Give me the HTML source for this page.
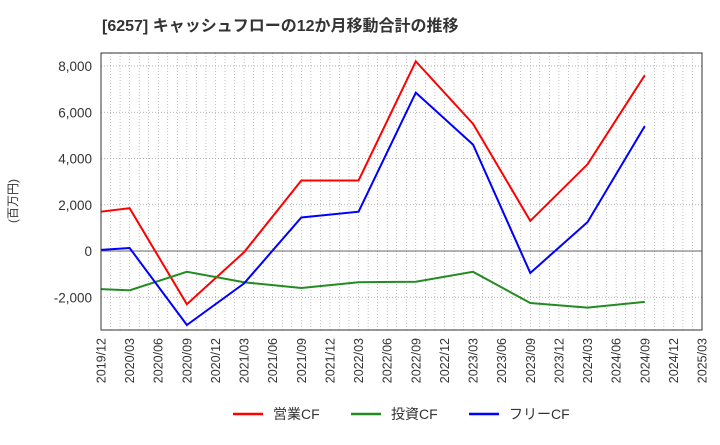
<!DOCTYPE html>
<html><head><meta charset="utf-8"><style>
body{margin:0;background:#fff;font-family:"Liberation Sans","Noto Sans CJK JP",sans-serif}
</style></head><body>
<svg width="720" height="440" xmlns="http://www.w3.org/2000/svg" font-family="Liberation Sans, Noto Sans CJK JP, sans-serif">
<text x="102" y="31" font-size="16" font-weight="bold" fill="#333">[6257]  キャッシュフローの12か月移動合計の推移</text>
<text transform="translate(17,201) rotate(-90)" text-anchor="middle" font-size="12" fill="#333">(百万円)</text>
<g id="grid"></g><g id="axes"></g><g id="series"></g>
<rect x="101" y="53" width="601" height="277" fill="none" stroke="#333" stroke-width="1"/>
<g font-size="14" fill="#333">
<line x1="233" y1="414" x2="263" y2="414" stroke="#f00" stroke-width="2.5"/><text x="273" y="419">営業CF</text>
<line x1="351" y1="414" x2="381" y2="414" stroke="#228b22" stroke-width="2.5"/><text x="391" y="419">投資CF</text>
<line x1="469" y1="414" x2="499" y2="414" stroke="#00f" stroke-width="2.5"/><text x="509" y="419">フリーCF</text>
</g>
</svg>
<script>
const quarterLabels=["2019/12","2020/03","2020/06","2020/09","2020/12","2021/03","2021/06","2021/09","2021/12","2022/03","2022/06","2022/09","2022/12","2023/03","2023/06","2023/09","2023/12","2024/03","2024/06","2024/09","2024/12","2025/03"];
const pointIdx=[0,1,3,5,7,9,11,13,15,17,19];
const operatingCF=[1700,1850,-2300,-50,3050,3050,8200,5500,1300,3750,7600];
const investingCF=[-1650,-1700,-900,-1350,-1600,-1350,-1330,-900,-2250,-2450,-2200];
const freeCF=[50,130,-3200,-1400,1450,1700,6850,4600,-950,1250,5400];
const yTicks=[-2000,0,2000,4000,6000,8000];
const NS="http://www.w3.org/2000/svg";
const L=101,R=702,T=53,B=330;
const x=i=>L+(R-L)*i/21;
const y=v=>251-v*185/8000;
function mk(tag,attrs,parent){const e=document.createElementNS(NS,tag);for(const k in attrs)e.setAttribute(k,attrs[k]);document.getElementById(parent).appendChild(e);return e;}
for(let m=1;m<63;m++){const xx=L+(R-L)*m/63;const g=mk('line',{x1:xx,x2:xx,y1:T,y2:B,stroke:'#999','stroke-width':0.6,'stroke-dasharray':'1,2'},'grid');}
yTicks.forEach(v=>{const g=mk('line',{x1:L,x2:R,y1:y(v),y2:y(v),stroke:v===0?'#666':'#999','stroke-width':v===0?1:0.8,'stroke-dasharray':v===0?'':'1,2'},'grid');
const t=mk('text',{x:92,y:y(v)+5,'text-anchor':'end','font-size':13.5,fill:'#333'},'axes');t.textContent=v.toLocaleString('en-US');});
quarterLabels.forEach((s,i)=>{const t=mk('text',{transform:`translate(${x(i)+4.5},338) rotate(-90)`,'text-anchor':'end','font-size':12.5,fill:'#333'},'axes');t.textContent=s;});
[[operatingCF,'#f00','operating-cf-line'],[investingCF,'#228b22','investing-cf-line'],[freeCF,'#00f','free-cf-line']].forEach(([d,c,n])=>{const p=mk('polyline',{points:d.map((v,k)=>x(pointIdx[k])+','+y(v)).join(' '),fill:'none',stroke:c,'stroke-width':2},'series');});
</script>
</body></html>
